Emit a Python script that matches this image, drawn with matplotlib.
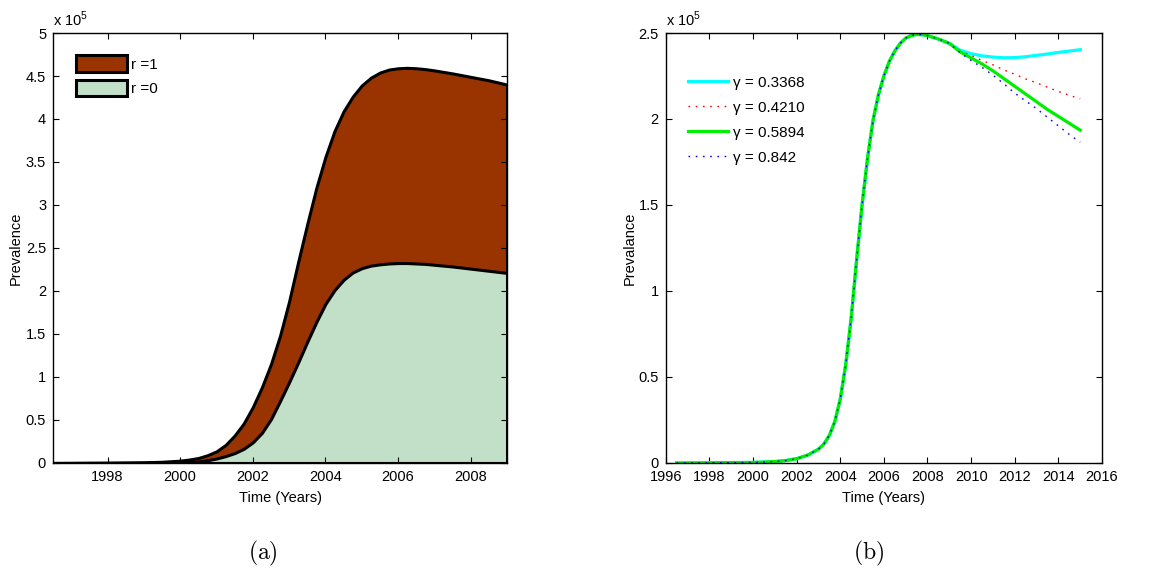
import matplotlib
matplotlib.use("Agg")
import matplotlib.pyplot as plt
from matplotlib.patches import Patch
from matplotlib.ticker import FuncFormatter

plt.rcParams['font.family'] = ['Liberation Sans', 'DejaVu Sans']
plt.rcParams['mathtext.fontset'] = 'custom'
plt.rcParams['mathtext.rm'] = 'Liberation Sans'

# panel (a): prevalence in units of 1e5
years_a = [1996.5, 1997, 1997.5, 1998, 1998.5, 1999, 1999.5, 2000, 2000.25, 2000.5,
           2000.75, 2001, 2001.25, 2001.5, 2001.75, 2002, 2002.25, 2002.5, 2002.75,
           2003, 2003.25, 2003.5, 2003.75, 2004, 2004.25, 2004.5, 2004.75, 2005,
           2005.25, 2005.5, 2005.75, 2006, 2006.25, 2006.5, 2006.75, 2007, 2007.5,
           2008, 2008.5, 2009]
prev_r1 = [0.0, 0.001, 0.002, 0.003, 0.005, 0.008, 0.014, 0.027, 0.04, 0.058,
           0.09, 0.135, 0.21, 0.32, 0.46, 0.65, 0.88, 1.15, 1.48,
           1.88, 2.34, 2.78, 3.20, 3.56, 3.86, 4.09, 4.26, 4.39,
           4.48, 4.54, 4.575, 4.59, 4.595, 4.59, 4.58, 4.565, 4.53,
           4.49, 4.45, 4.40]
prev_r0 = [0.0, 0.0, 0.001, 0.001, 0.002, 0.002, 0.003, 0.005, 0.01, 0.018,
           0.032, 0.052, 0.08, 0.115, 0.165, 0.24, 0.35, 0.51, 0.72,
           0.94, 1.17, 1.41, 1.64, 1.85, 2.01, 2.13, 2.215, 2.265,
           2.295, 2.31, 2.32, 2.325, 2.325, 2.32, 2.315, 2.305, 2.285,
           2.26, 2.235, 2.21]

# panel (b): common part up to 2009, then one tail per gamma
years_b = [1996.5, 1997, 1998, 1999, 2000, 2000.5, 2001, 2001.5, 2002, 2002.5,
           2003, 2003.25, 2003.5, 2003.75, 2004, 2004.25, 2004.5, 2004.75, 2005,
           2005.25, 2005.5, 2005.75, 2006, 2006.25, 2006.5, 2006.75, 2007, 2007.25,
           2007.5, 2007.75, 2008, 2008.5, 2009]
prev_b = [0.0, 0.0, 0.001, 0.002, 0.003, 0.005, 0.008, 0.014, 0.025, 0.045,
          0.08, 0.11, 0.16, 0.24, 0.37, 0.57, 0.84, 1.18, 1.50,
          1.77, 1.99, 2.14, 2.25, 2.335, 2.395, 2.44, 2.47, 2.485,
          2.492, 2.49, 2.485, 2.465, 2.44]
years_tail = [2009.5, 2010, 2010.5, 2011, 2011.5, 2012, 2012.5, 2013, 2013.5, 2014, 2014.5, 2015]
tail_03368 = [2.40, 2.38, 2.367, 2.36, 2.356, 2.357, 2.362, 2.37, 2.378, 2.387, 2.395, 2.403]
tail_04210 = [2.395, 2.37, 2.34, 2.315, 2.285, 2.26, 2.233, 2.21, 2.185, 2.16, 2.138, 2.117]
tail_05894 = [2.39, 2.355, 2.32, 2.28, 2.235, 2.19, 2.145, 2.10, 2.055, 2.015, 1.975, 1.935]
tail_0842 = [2.385, 2.34, 2.30, 2.255, 2.205, 2.15, 2.105, 2.06, 2.01, 1.96, 1.91, 1.865]
gamma_labels = ['\u03b3 = 0.3368', '\u03b3 = 0.4210', '\u03b3 = 0.5894', '\u03b3 = 0.842']

fmt = FuncFormatter(lambda v, p: '%g' % v)


def style_axes(ax):
    ax.tick_params(direction='in', top=True, right=True, length=4, width=0.8,
                   labelsize=10.5, pad=5)
    for s in ax.spines.values():
        s.set_linewidth(1.0)
    ax.yaxis.set_major_formatter(fmt)
    ax.text(0.0, 1.01, 'x 10$^5$', transform=ax.transAxes, fontsize=10.5,
            ha='left', va='bottom')


fig = plt.figure(figsize=(11.61, 5.72), dpi=100)

# (a)
ax1 = fig.add_axes([0.0457, 0.1906, 0.391, 0.7517])
ax1.fill_between(years_a, 0, prev_r1, facecolor='#993300', edgecolor='black', linewidth=2.2)
ax1.fill_between(years_a, 0, prev_r0, facecolor='#c2dfc8', edgecolor='black', linewidth=2.2)
ax1.set_xlim(1996.5, 2009)
ax1.set_ylim(0, 5)
ax1.set_xticks([1998, 2000, 2002, 2004, 2006, 2008])
ax1.set_yticks([0, 0.5, 1, 1.5, 2, 2.5, 3, 3.5, 4, 4.5, 5])
style_axes(ax1)
ax1.set_xlabel('Time (Years)', fontsize=10.5, labelpad=5)
ax1.set_ylabel('Prevalence', fontsize=10.5, labelpad=2)
handles_a = [Patch(facecolor='#993300', edgecolor='black', linewidth=2.2),
             Patch(facecolor='#c2dfc8', edgecolor='black', linewidth=2.2)]
ax1.legend(handles_a, ['r =1', 'r =0'], loc='upper left', frameon=False, fontsize=11,
           handlelength=3.3, handleheight=1.3, handletextpad=0.3, labelspacing=0.5,
           bbox_to_anchor=(0.038, 0.962), borderaxespad=0)

# (b)
ax2 = fig.add_axes([0.5734, 0.1906, 0.3758, 0.7517])
styles = [dict(color='cyan', lw=2.3, ls='-'),
          dict(color='red', lw=1.0, ls=(0, (1.2, 4))),
          dict(color='#00ee00', lw=2.3, ls='-'),
          dict(color='blue', lw=1.0, ls=(0, (1.2, 4)))]
tails = [tail_03368, tail_04210, tail_05894, tail_0842]
for tail, st, lab in zip(tails, styles, gamma_labels):
    ax2.plot(years_b + years_tail, prev_b + tail, label=lab, **st)
ax2.set_xlim(1996, 2016)
ax2.set_ylim(0, 2.5)
ax2.set_xticks(list(range(1996, 2017, 2)))
ax2.set_yticks([0, 0.5, 1, 1.5, 2, 2.5])
style_axes(ax2)
ax2.set_xlabel('Time (Years)', fontsize=10.5, labelpad=5)
ax2.set_ylabel('Prevalance', fontsize=10.5, labelpad=1)
ax2.legend(loc='upper left', frameon=False, fontsize=11, handlelength=2.6,
           handletextpad=0.35, labelspacing=0.72, bbox_to_anchor=(0.037, 0.915),
           borderaxespad=0)

fig.text(0.2265, 0.033, r'$\mathrm{(a)}$', math_fontfamily='cm', fontsize=17,
         ha='center', va='center')
fig.text(0.7485, 0.033, r'$\mathrm{(b)}$', math_fontfamily='cm', fontsize=17,
         ha='center', va='center')

fig.savefig('out.png', dpi=100)
